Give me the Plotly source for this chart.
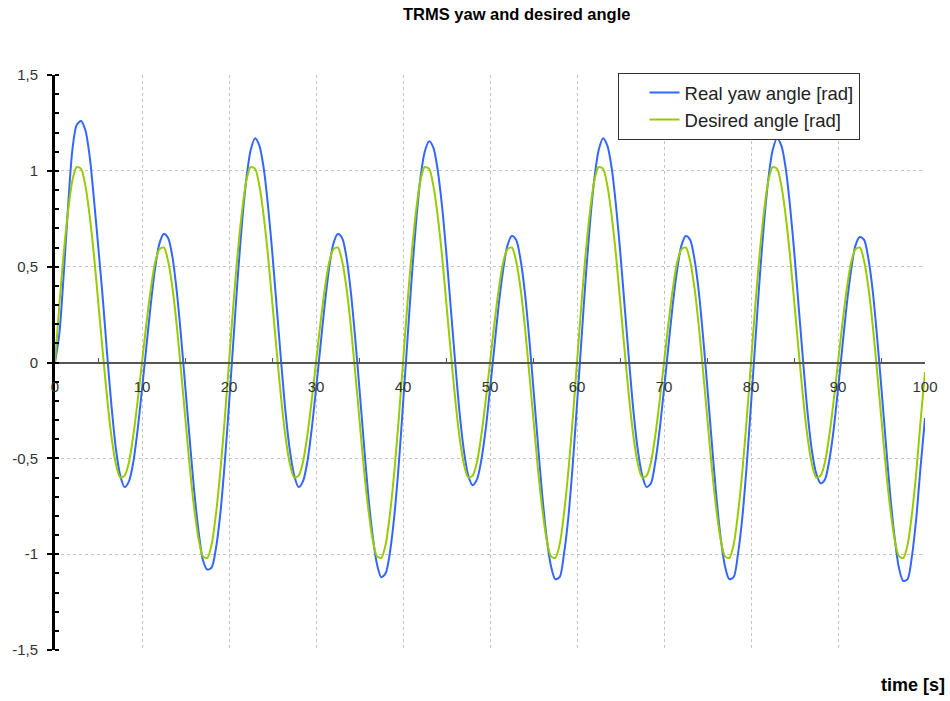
import plotly.graph_objects as go

# sample times [s] (0.5 s grid)
time_s = [i * 0.5 for i in range(201)]

# Desired angle [rad], every 0.5 s
desired = [
    0.00, 0.30, 0.57, 0.79, 0.95, 1.02, 1.01, 0.92, 0.76, 0.55,
    0.30, 0.05, -0.19, -0.39, -0.53, -0.60, -0.59, -0.52, -0.38, -0.20,
    0.00, 0.20, 0.38, 0.52, 0.59, 0.60, 0.53, 0.39, 0.19, -0.05,
    -0.30, -0.55, -0.76, -0.92, -1.01, -1.02, -0.95, -0.79, -0.57, -0.30,
    0.00, 0.30, 0.57, 0.79, 0.95, 1.02, 1.01, 0.92, 0.76, 0.55,
    0.30, 0.05, -0.19, -0.39, -0.53, -0.60, -0.59, -0.52, -0.38, -0.20,
    0.00, 0.20, 0.38, 0.52, 0.59, 0.60, 0.53, 0.39, 0.19, -0.05,
    -0.30, -0.55, -0.76, -0.92, -1.01, -1.02, -0.95, -0.79, -0.57, -0.30,
    0.00, 0.30, 0.57, 0.79, 0.95, 1.02, 1.01, 0.92, 0.76, 0.55,
    0.30, 0.05, -0.19, -0.39, -0.53, -0.60, -0.59, -0.52, -0.38, -0.20,
    0.00, 0.20, 0.38, 0.52, 0.59, 0.60, 0.53, 0.39, 0.19, -0.05,
    -0.30, -0.55, -0.76, -0.92, -1.01, -1.02, -0.95, -0.79, -0.57, -0.30,
    0.00, 0.30, 0.57, 0.79, 0.95, 1.02, 1.01, 0.92, 0.76, 0.55,
    0.30, 0.05, -0.19, -0.39, -0.53, -0.60, -0.59, -0.52, -0.38, -0.20,
    0.00, 0.20, 0.38, 0.52, 0.59, 0.60, 0.53, 0.39, 0.19, -0.05,
    -0.30, -0.55, -0.76, -0.92, -1.01, -1.02, -0.95, -0.79, -0.57, -0.30,
    0.00, 0.30, 0.57, 0.79, 0.95, 1.02, 1.01, 0.92, 0.76, 0.55,
    0.30, 0.05, -0.19, -0.39, -0.53, -0.60, -0.59, -0.52, -0.38, -0.20,
    0.00, 0.20, 0.38, 0.52, 0.59, 0.60, 0.53, 0.39, 0.19, -0.05,
    -0.30, -0.55, -0.76, -0.92, -1.01, -1.02, -0.95, -0.79, -0.57, -0.30,
    -0.05,
]

# Real yaw angle [rad], every 0.5 s
real_yaw = [
    0.00, 0.15, 0.46, 0.81, 1.11, 1.24, 1.26, 1.21, 1.07, 0.84,
    0.59, 0.33, 0.04, -0.23, -0.45, -0.59, -0.65, -0.62, -0.52, -0.35,
    -0.14, 0.08, 0.30, 0.49, 0.62, 0.67, 0.65, 0.55, 0.37, 0.13,
    -0.14, -0.41, -0.67, -0.88, -1.03, -1.08, -1.07, -0.97, -0.79, -0.53,
    -0.22, 0.11, 0.44, 0.73, 0.96, 1.11, 1.17, 1.13, 1.01, 0.81,
    0.56, 0.28, 0.00, -0.26, -0.46, -0.59, -0.65, -0.62, -0.52, -0.35,
    -0.14, 0.08, 0.30, 0.49, 0.62, 0.67, 0.65, 0.55, 0.37, 0.13,
    -0.14, -0.42, -0.69, -0.90, -1.05, -1.12, -1.10, -0.99, -0.80, -0.54,
    -0.22, 0.11, 0.44, 0.73, 0.96, 1.10, 1.155, 1.12, 1.00, 0.81,
    0.56, 0.28, 0.00, -0.26, -0.46, -0.59, -0.64, -0.61, -0.51, -0.35,
    -0.14, 0.08, 0.30, 0.48, 0.61, 0.66, 0.64, 0.54, 0.37, 0.13,
    -0.14, -0.42, -0.69, -0.91, -1.06, -1.13, -1.12, -1.00, -0.81, -0.54,
    -0.22, 0.11, 0.44, 0.73, 0.96, 1.11, 1.17, 1.13, 1.01, 0.81,
    0.56, 0.28, 0.00, -0.26, -0.46, -0.59, -0.65, -0.63, -0.52, -0.35,
    -0.14, 0.08, 0.30, 0.48, 0.61, 0.66, 0.64, 0.54, 0.37, 0.13,
    -0.14, -0.42, -0.69, -0.91, -1.06, -1.13, -1.12, -1.00, -0.81, -0.54,
    -0.22, 0.11, 0.44, 0.73, 0.96, 1.11, 1.17, 1.13, 1.01, 0.81,
    0.56, 0.28, 0.00, -0.26, -0.46, -0.58, -0.63, -0.61, -0.51, -0.35,
    -0.14, 0.08, 0.30, 0.48, 0.61, 0.655, 0.64, 0.54, 0.37, 0.13,
    -0.14, -0.42, -0.69, -0.91, -1.07, -1.14, -1.13, -1.01, -0.81, -0.54,
    -0.29,
]

y_tickvals = [-1.5, -1.0, -0.5, 0.0, 0.5, 1.0, 1.5]
y_ticktext = ["-1,5", "-1", "-0,5", "0", "0,5", "1", "1,5"]
x_tickvals = [0, 10, 20, 30, 40, 50, 60, 70, 80, 90, 100]
x_ticktext = ["0", "10", "20", "30", "40", "50", "60", "70", "80", "90", "100"]

FONT = "Liberation Sans, Arial, sans-serif"

fig = go.Figure()
fig.add_trace(go.Scatter(
    x=time_s, y=real_yaw, mode="lines", name="Real yaw angle [rad]",
    line=dict(color="#3366ff", width=2, shape="spline", smoothing=0.8),
))
fig.add_trace(go.Scatter(
    x=time_s, y=desired, mode="lines", name="Desired angle [rad]",
    line=dict(color="#99cc00", width=2, shape="spline", smoothing=0.8),
))

fig.update_layout(
    width=950, height=701,
    margin=dict(l=51, r=19, t=75, b=51),
    paper_bgcolor="white", plot_bgcolor="white",
    font=dict(family=FONT, color="#333333"),
    title=dict(
        text="TRMS yaw and desired angle",
        font=dict(family=FONT, size=16.5, color="black", weight="bold"),
        xref="container", x=403 / 950, xanchor="left",
        yref="container", y=1 - 14 / 701, yanchor="middle",
    ),
    legend=dict(
        x=(620 - 51) / 880, y=(650 - 73) / 575, xanchor="left", yanchor="top",
        bgcolor="white", bordercolor="#333333", borderwidth=1,
        font=dict(family=FONT, size=18.5, color="#222222"),
        itemwidth=30, indentation=26,
    ),
    xaxis=dict(
        range=[0, 100], anchor="free", position=0.5,
        showline=True, linecolor="#555555", linewidth=2,
        tickmode="array", tickvals=x_tickvals, ticktext=x_ticktext,
        ticks="", ticklabelstandoff=10,
        tickfont=dict(family=FONT, size=15, color="#333333"),
        showgrid=True, gridcolor="#c4c4c4", griddash="3px,3px", gridwidth=1,
        zeroline=False,
        minor=dict(tickmode="linear", tick0=5, dtick=10, ticks="inside",
                   ticklen=4, tickcolor="#555555", tickwidth=1, showgrid=False),
    ),
    yaxis=dict(
        range=[-1.5, 1.5],
        showline=True, linecolor="black", linewidth=3,
        tickmode="array", tickvals=y_tickvals, ticktext=y_ticktext,
        ticks="outside", ticklen=5, tickcolor="black", tickwidth=2,
        ticklabelstandoff=6,
        tickfont=dict(family=FONT, size=15, color="#333333"),
        showgrid=True, gridcolor="#c4c4c4", griddash="3px,3px", gridwidth=1,
        zeroline=False,
        minor=dict(tickmode="linear", tick0=0, dtick=0.1, ticks="inside",
                   ticklen=4, tickcolor="black", tickwidth=2, showgrid=False),
    ),
    annotations=[dict(
        text="time [s]", xref="paper", yref="paper",
        x=(953 - 51) / 880, y=(650 - 685) / 575, xanchor="right", yanchor="middle",
        showarrow=False, font=dict(family=FONT, size=18, color="black", weight="bold"),
    )],
)

fig.write_html("out.html")
